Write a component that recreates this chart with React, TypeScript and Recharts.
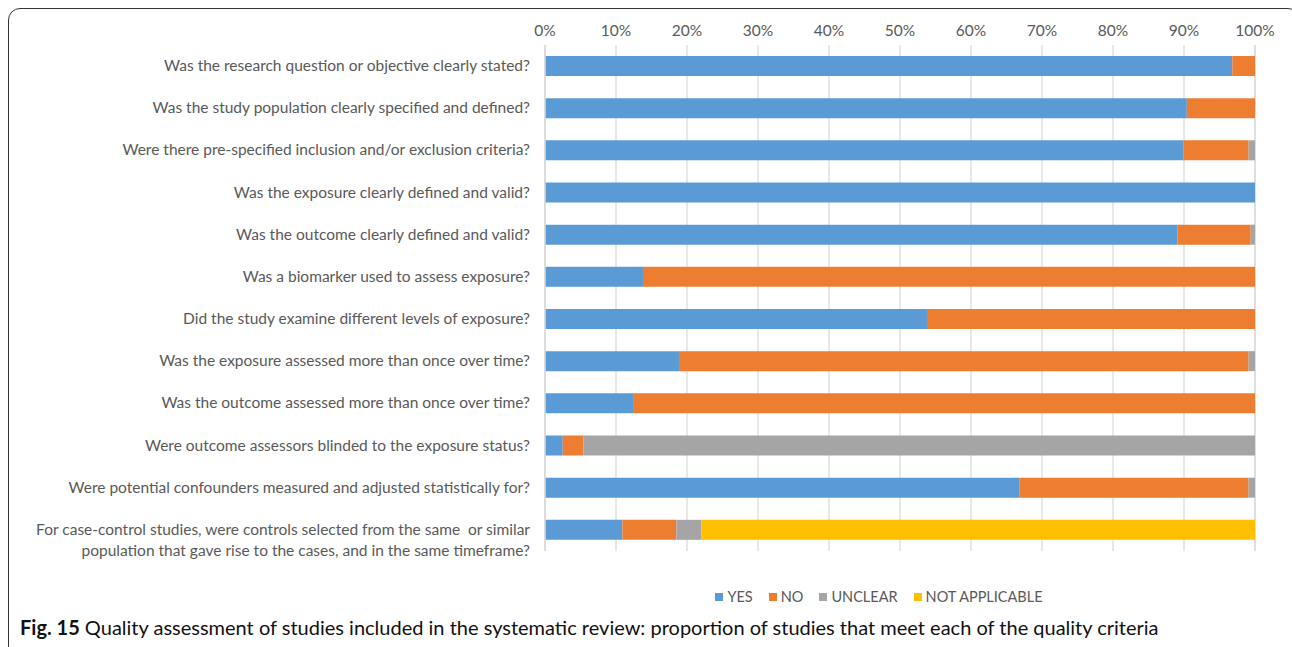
import React from "react";
import { BarChart, Bar, XAxis, YAxis, CartesianGrid } from "recharts";

const QUESTIONS = [
  "Was the research question or objective clearly stated?",
  "Was the study population clearly specified and defined?",
  "Were there pre-specified inclusion and/or exclusion criteria?",
  "Was the exposure clearly defined and valid?",
  "Was the outcome clearly defined and valid?",
  "Was a biomarker used to assess exposure?",
  "Did the study examine different levels of exposure?",
  "Was the exposure assessed more than once over time?",
  "Was the outcome assessed more than once over time?",
  "Were outcome assessors blinded to the exposure status?",
  "Were potential confounders measured and adjusted statistically for?",
  "For case-control studies, were controls selected from the same  or similar\npopulation that gave rise to the cases, and in the same timeframe?",
];

const YES = [96.8, 90.4, 89.9, 100, 89.1, 13.8, 53.8, 19.0, 12.4, 2.5, 66.8, 10.9];
const NO = [3.2, 9.6, 9.2, 0, 10.3, 86.2, 46.2, 80.1, 87.6, 2.9, 32.3, 7.6];
const UNCLEAR = [0, 0, 0.9, 0, 0.6, 0, 0, 0.9, 0, 94.6, 0.9, 3.5];
const NOT_APPLICABLE = [0, 0, 0, 0, 0, 0, 0, 0, 0, 0, 0, 78.0];

const X_TICKS = [0, 10, 20, 30, 40, 50, 60, 70, 80, 90, 100];

const SERIES = [
  { key: "yes", name: "YES", color: "#5B9BD5" },
  { key: "no", name: "NO", color: "#ED7D31" },
  { key: "unclear", name: "UNCLEAR", color: "#A5A5A5" },
  { key: "na", name: "NOT APPLICABLE", color: "#FFC000" },
];

const FONT = "Lato, 'Open Sans', sans-serif";

const rows = QUESTIONS.map((q, i) => ({
  q,
  yes: YES[i],
  no: NO[i],
  unclear: UNCLEAR[i],
  na: NOT_APPLICABLE[i],
}));

// etiqueta del eje Y, alineada a la derecha, admite dos líneas
function QuestionTick({ y, payload }: any) {
  const lines = String(payload.value).split("\n");
  return (
    <g>
      {lines.map((line, k) => (
        <text
          key={k}
          x={530}
          y={y + k * 21}
          dy={5}
          textAnchor="end"
          fontSize={15.5}
          fill="#595959"
          fontFamily={FONT}
          style={{ whiteSpace: "pre" }}
        >
          {line}
        </text>
      ))}
    </g>
  );
}

export default function App() {
  return (
    <div style={{ position: "absolute", left: 0, top: 0, width: 1292, height: 647, overflow: "hidden", background: "#fff" }}>
      {/* marco */}
      <div
        style={{
          position: "absolute",
          left: 8,
          top: 8,
          width: 1292,
          height: 650,
          border: "1.5px solid #333",
          borderRadius: 12,
          boxSizing: "border-box",
        }}
      />

      <div style={{ position: "absolute", left: 0, top: 0 }}>
        <BarChart
          width={1292}
          height={600}
          data={rows}
          layout="vertical"
          margin={{ top: 15, right: 37, left: 0, bottom: 49 }}
          barSize={20}
        >
          <CartesianGrid horizontal={false} stroke="#D9D9D9" strokeWidth={1.2} />
          <XAxis
            type="number"
            orientation="top"
            height={30}
            domain={[0, 100]}
            ticks={X_TICKS}
            tickFormatter={(v) => `${v}%`}
            axisLine={false}
            tickLine={false}
            tickSize={0}
            tickMargin={9}
            tick={{ fontSize: 15.5, fill: "#595959", fontFamily: FONT }}
            interval={0}
          />
          <YAxis
            type="category"
            dataKey="q"
            width={545}
            axisLine={{ stroke: "#D9D9D9", strokeWidth: 1.5 }}
            tickLine={false}
            tick={<QuestionTick />}
            interval={0}
          />
          {SERIES.map((s) => (
            <Bar key={s.key} dataKey={s.key} name={s.name} stackId="a" fill={s.color} isAnimationActive={false} />
          ))}
        </BarChart>
      </div>

      {/* leyenda */}
      <div
        style={{
          position: "absolute",
          left: 545,
          width: 668,
          top: 588,
          display: "flex",
          justifyContent: "center",
          gap: 16,
          fontFamily: FONT,
          fontSize: 14.5,
          color: "#595959",
        }}
      >
        {SERIES.map((s) => (
          <div key={s.key} style={{ display: "flex", alignItems: "center", gap: 4 }}>
            <span style={{ display: "inline-block", width: 8, height: 8, background: s.color }} />
            <span>{s.name}</span>
          </div>
        ))}
      </div>

      {/* pie de figura */}
      <div
        style={{
          position: "absolute",
          left: 20,
          top: 615,
          fontFamily: FONT,
          fontSize: 20,
          color: "#111",
          whiteSpace: "nowrap",
        }}
      >
        <b>Fig. 15</b> Quality assessment of studies included in the systematic review: proportion of studies that meet each of the quality criteria
      </div>
    </div>
  );
}
